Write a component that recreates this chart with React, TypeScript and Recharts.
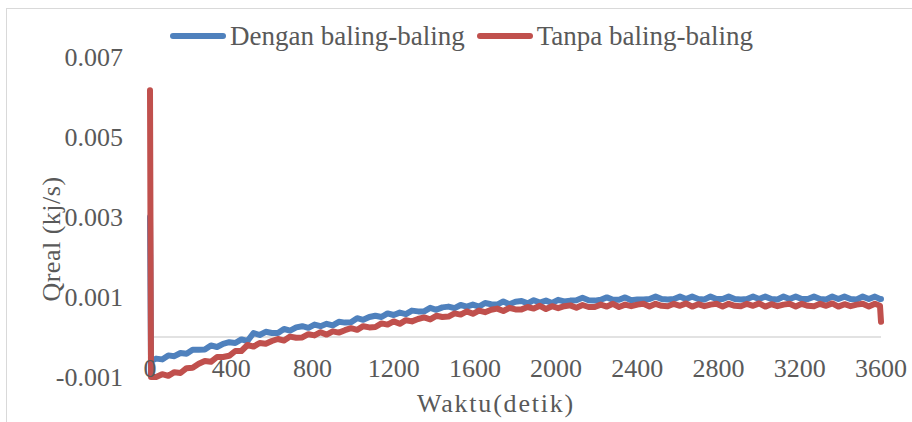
import React from 'react'
import { LineChart, Line, XAxis, YAxis, CartesianGrid, Legend } from 'recharts'

const FONT = '"Liberation Serif", "Times New Roman", serif'
const TEXT = '#595959'
const BLUE = '#4F81BD'
const RED = '#C0504D'

// waktu (detik)
const WAKTU = [
  0, 5, 30, 60, 90, 120, 150, 180, 210, 240, 270, 300, 330, 360, 390, 420, 450, 480, 510, 540,
  570, 600, 630, 660, 690, 720, 750, 780, 810, 840, 870, 900, 930, 960, 990, 1020, 1050, 1080, 1110, 1140,
  1170, 1200, 1230, 1260, 1290, 1320, 1350, 1380, 1410, 1440, 1470, 1500, 1530, 1560, 1590, 1620, 1650, 1680, 1710, 1740,
  1770, 1800, 1830, 1860, 1890, 1920, 1950, 1980, 2010, 2040, 2070, 2100, 2130, 2160, 2190, 2220, 2250, 2280, 2310, 2340,
  2370, 2400, 2430, 2460, 2490, 2520, 2550, 2580, 2610, 2640, 2670, 2700, 2730, 2760, 2790, 2820, 2850, 2880, 2910, 2940,
  2970, 3000, 3030, 3060, 3090, 3120, 3150, 3180, 3210, 3240, 3270, 3300, 3330, 3360, 3390, 3420, 3450, 3480, 3510, 3540,
  3570, 3595, 3600,
]

// Qreal dengan baling-baling (kj/s)
const DENGAN = [
  0.003, -0.0006, -0.00054, -0.00056, -0.00046, -0.00048, -0.0004, -0.00042, -0.00032, -0.00032, -0.00031, -0.00021, -0.00025, -0.00017, -0.00013, -0.00015, -0.00006, -0.0001, 0.0001, 0.00005,
  0.00013, 0.0001, 0.0001, 0.0002, 0.00016, 0.00024, 0.00027, 0.00023, 0.00031, 0.00027, 0.00033, 0.00029, 0.00038, 0.00036, 0.00037, 0.00047, 0.00043, 0.0005, 0.00053, 0.0005,
  0.00059, 0.00055, 0.00061, 0.00057, 0.00066, 0.00064, 0.00064, 0.00073, 0.00068, 0.00074, 0.00076, 0.00072, 0.0008, 0.00076, 0.00081, 0.00076, 0.00085, 0.00082, 0.00081, 0.00089,
  0.00082, 0.00088, 0.0009, 0.00084, 0.00092, 0.00086, 0.00091, 0.00085, 0.00093, 0.00089, 0.00091, 0.00092, 0.00098, 0.00092, 0.00091, 0.00093, 0.00099, 0.00093, 0.00093, 0.00099,
  0.00092, 0.00094, 0.00094, 0.00095, 0.00101, 0.00095, 0.00094, 0.00095, 0.00101, 0.00095, 0.00101, 0.00095, 0.00094, 0.00101, 0.00095, 0.00095, 0.00101, 0.00095, 0.00094, 0.00095,
  0.00101, 0.00095, 0.00101, 0.00095, 0.00094, 0.00101, 0.00095, 0.00101, 0.00095, 0.00095, 0.00101, 0.00095, 0.00094, 0.00101, 0.00095, 0.00101, 0.00095, 0.00094, 0.00101, 0.00095,
  0.00101, 0.00095, 0.00095,
]

// Qreal tanpa baling-baling (kj/s)
const TANPA = [
  0.00617, -0.001, -0.001, -0.00093, -0.00097, -0.00088, -0.0009, -0.00078, -0.00077, -0.00067, -0.0006, -0.00062, -0.0005, -0.0005, -0.00047, -0.00035, -0.00035, -0.0002, -0.00024, -0.00015,
  -0.00017, -0.0001, -0.00005, -0.00009, 0.00001, -0.00002, -0.00001, 0.00007, 0.00004, 0.00012, 0.00006, 0.00014, 0.00011, 0.00017, 0.00022, 0.00018, 0.00027, 0.00024, 0.00025, 0.00034,
  0.00031, 0.00039, 0.00033, 0.00042, 0.00039, 0.00045, 0.00049, 0.00044, 0.00053, 0.0005, 0.00051, 0.00059, 0.00056, 0.00064, 0.00058, 0.00066, 0.00062, 0.00068, 0.00071, 0.00065,
  0.00073, 0.00069, 0.00069, 0.00075, 0.00071, 0.00078, 0.0007, 0.00077, 0.00072, 0.00077, 0.00079, 0.00073, 0.0008, 0.00075, 0.00075, 0.00081, 0.00076, 0.00083, 0.00075, 0.00081,
  0.00077, 0.00081, 0.00083, 0.00076, 0.00083, 0.00078, 0.00077, 0.00083, 0.00078, 0.00084, 0.00076, 0.00082, 0.00077, 0.00081, 0.00083, 0.00076, 0.00083, 0.00078, 0.00077, 0.00083,
  0.00078, 0.00084, 0.00076, 0.00082, 0.00077, 0.00081, 0.00083, 0.00076, 0.00083, 0.00078, 0.00077, 0.00083, 0.00078, 0.00084, 0.00076, 0.00082, 0.00077, 0.00081, 0.00083, 0.00076,
  0.00083, 0.00078, 0.00038,
]

const X_TICKS = [0, 400, 800, 1200, 1600, 2000, 2400, 2800, 3200, 3600]
const Y_TICKS = [-0.001, 0.001, 0.003, 0.005, 0.007]

const SERIES = [
  { key: 'dengan', name: 'Dengan baling-baling', color: BLUE },
  { key: 'tanpa', name: 'Tanpa baling-baling', color: RED },
]

const data = WAKTU.map((t, i) => ({ t, dengan: DENGAN[i], tanpa: TANPA[i] }))

// x labels sit just above the bottom of the plot (axis crosses at 0)
const XTick = ({ x, y, payload }: any) => (
  <text x={x} y={y} textAnchor="middle" fill={TEXT} fontSize={26} fontFamily={FONT}>
    {payload.value}
  </text>
)

const ChartLegend = () => (
  <div style={{ display: 'flex', alignItems: 'center', fontFamily: FONT, fontSize: 27, color: TEXT, height: 30, lineHeight: '30px' }}>
    {SERIES.map((s, i) => (
      <div key={s.key} style={{ display: 'flex', alignItems: 'center', marginLeft: i === 0 ? 0 : 12 }}>
        <div style={{ width: 56, height: 6, borderRadius: 3, background: s.color, marginRight: 4 }} />
        <span>{s.name}</span>
      </div>
    ))}
  </div>
)

export default function App() {
  return (
    <div style={{ position: 'absolute', left: 0, top: 0, width: 912, height: 422, background: '#fff', overflow: 'hidden' }}>
      <div style={{ position: 'absolute', left: 6, top: 8, width: 940, height: 440, border: '1px solid #d9d9d9' }} />
      <div style={{ position: 'absolute', left: 0, top: 0 }}>
        {/* legend box (30px) is added to the top margin by recharts */}
        <LineChart width={912} height={422} data={data} margin={{ top: 27, right: 31, bottom: 0, left: 0 }}>
          <CartesianGrid vertical={false} horizontalValues={[0]} stroke="#d9d9d9" strokeWidth={1.5} />
          <XAxis
            dataKey="t"
            type="number"
            domain={[0, 3600]}
            ticks={X_TICKS}
            interval={0}
            axisLine={false}
            tickLine={false}
            tickSize={0}
            tickMargin={0}
            height={45}
            tick={<XTick />}
            label={{
              content: () => (
                <text x={496} y={412} textAnchor="middle" fill={TEXT} fontSize={26} letterSpacing={1.8} fontFamily={FONT}>
                  Waktu(detik)
                </text>
              ),
            }}
          />
          <YAxis
            type="number"
            domain={[-0.001, 0.007]}
            ticks={Y_TICKS}
            interval={0}
            width={150}
            axisLine={false}
            tickLine={false}
            tickSize={0}
            tickMargin={27}
            tick={{ fill: TEXT, fontSize: 26, fontFamily: FONT }}
            tickFormatter={(v: number) => String(v)}
            label={{
              content: () => (
                <text
                  transform="translate(60 239) rotate(-90)"
                  textAnchor="middle"
                  fill={TEXT}
                  fontSize={26}
                  letterSpacing={0.5}
                  fontFamily={FONT}
                >
                  Qreal (kj/s)
                </text>
              ),
            }}
          />
          <Legend
            verticalAlign="top"
            content={<ChartLegend />}
            wrapperStyle={{ top: 21, left: 170, width: 'auto' }}
          />
          {SERIES.map(s => (
            <Line
              key={s.key}
              type="linear"
              dataKey={s.key}
              name={s.name}
              stroke={s.color}
              strokeWidth={6}
              strokeLinejoin="round"
              strokeLinecap="round"
              dot={false}
              isAnimationActive={false}
            />
          ))}
        </LineChart>
      </div>
    </div>
  )
}
